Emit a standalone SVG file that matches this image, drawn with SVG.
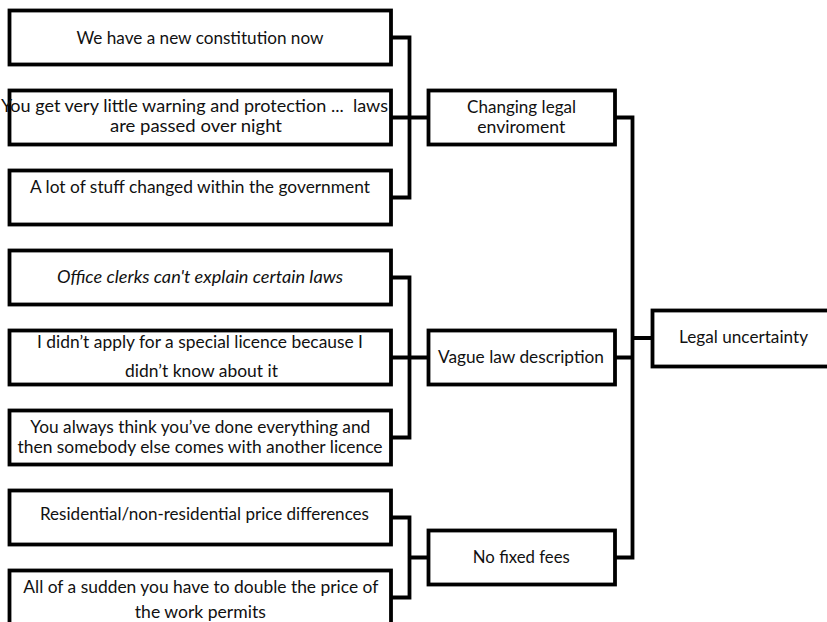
<svg xmlns="http://www.w3.org/2000/svg" width="827" height="622" viewBox="0 0 827 622">
<style>
.box{fill:#fff;stroke:#000;stroke-width:3.8}
.con{fill:none;stroke:#000;stroke-width:3.8;stroke-linejoin:miter}
text{font-family:Lato,"Open Sans","Liberation Sans",sans-serif;font-size:16.5px;fill:#111;text-anchor:middle}
.it{font-style:italic}
</style>
<rect width="827" height="622" fill="#fff"/>
<g id="connectors">
<path class="con" d="M391 37.5H409.5V197.5H391M391 117.5H428.5"/>
<path class="con" d="M391 277.5H409.5V437.5H391M391 357.5H428.5"/>
<path class="con" d="M391 517.5H409.5V597.5H391M409.5 557.5H428.5"/>
<path class="con" d="M615 117.5H632.5V557.5H615M615 357.5H632.5M632.5 338H652.5"/>
</g>
<g id="n1"><rect class="box" x="9.5" y="10.5" width="381.5" height="54"/><text x="200" y="43.5" textLength="247" lengthAdjust="spacingAndGlyphs">We have a new constitution now</text></g>
<g id="n2"><rect class="box" x="9.5" y="90.5" width="381.5" height="54"/><text x="194.5" y="112" textLength="387" lengthAdjust="spacingAndGlyphs" xml:space="preserve">You get very little warning and protection ...  laws</text><text x="196" y="132" textLength="172" lengthAdjust="spacingAndGlyphs">are passed over night</text></g>
<g id="n3"><rect class="box" x="9.5" y="170.5" width="381.5" height="54"/><text x="200" y="193" textLength="340" lengthAdjust="spacingAndGlyphs">A lot of stuff changed within the government</text></g>
<g id="n4"><rect class="box" x="9.5" y="250.5" width="381.5" height="54"/><text class="it" x="200" y="282.7" textLength="286" lengthAdjust="spacingAndGlyphs">Office clerks can't explain certain laws</text></g>
<g id="n5"><rect class="box" x="9.5" y="330.5" width="381.5" height="54"/><text x="200" y="348.3" textLength="326" lengthAdjust="spacingAndGlyphs">I didn’t apply for a special licence because I</text><text x="201.5" y="376.7" textLength="153" lengthAdjust="spacingAndGlyphs">didn’t know about it</text></g>
<g id="n6"><rect class="box" x="9.5" y="410.5" width="381.5" height="54"/><text x="200.3" y="433.3" textLength="340" lengthAdjust="spacingAndGlyphs">You always think you’ve done everything and</text><text x="200" y="453.3" textLength="365" lengthAdjust="spacingAndGlyphs">then somebody else comes with another licence</text></g>
<g id="n7"><rect class="box" x="9.5" y="490.5" width="381.5" height="54"/><text x="204.5" y="520" textLength="329" lengthAdjust="spacingAndGlyphs">Residential/non-residential price differences</text></g>
<g id="n8"><rect class="box" x="9.5" y="570.5" width="381.5" height="54"/><text x="200.8" y="593.3" textLength="355" lengthAdjust="spacingAndGlyphs">All of a sudden you have to double the price of</text><text x="200.3" y="618" textLength="131" lengthAdjust="spacingAndGlyphs">the work permits</text></g>
<g id="changing"><rect class="box" x="428.5" y="90.5" width="186.5" height="54"/><text x="521.5" y="113.3" textLength="109" lengthAdjust="spacingAndGlyphs">Changing legal</text><text x="521.3" y="133.3" textLength="88" lengthAdjust="spacingAndGlyphs">enviroment</text></g>
<g id="vague"><rect class="box" x="428.5" y="330.5" width="186.5" height="54"/><text x="521" y="363.3" textLength="166" lengthAdjust="spacingAndGlyphs">Vague law description</text></g>
<g id="nofixed"><rect class="box" x="428.5" y="530.5" width="186.5" height="54"/><text x="521.3" y="563.3" textLength="97" lengthAdjust="spacingAndGlyphs">No fixed fees</text></g>
<g id="legal"><rect class="box" x="652.5" y="310.5" width="185" height="56"/><text x="743.5" y="343.3" textLength="129" lengthAdjust="spacingAndGlyphs">Legal uncertainty</text></g>
</svg>
